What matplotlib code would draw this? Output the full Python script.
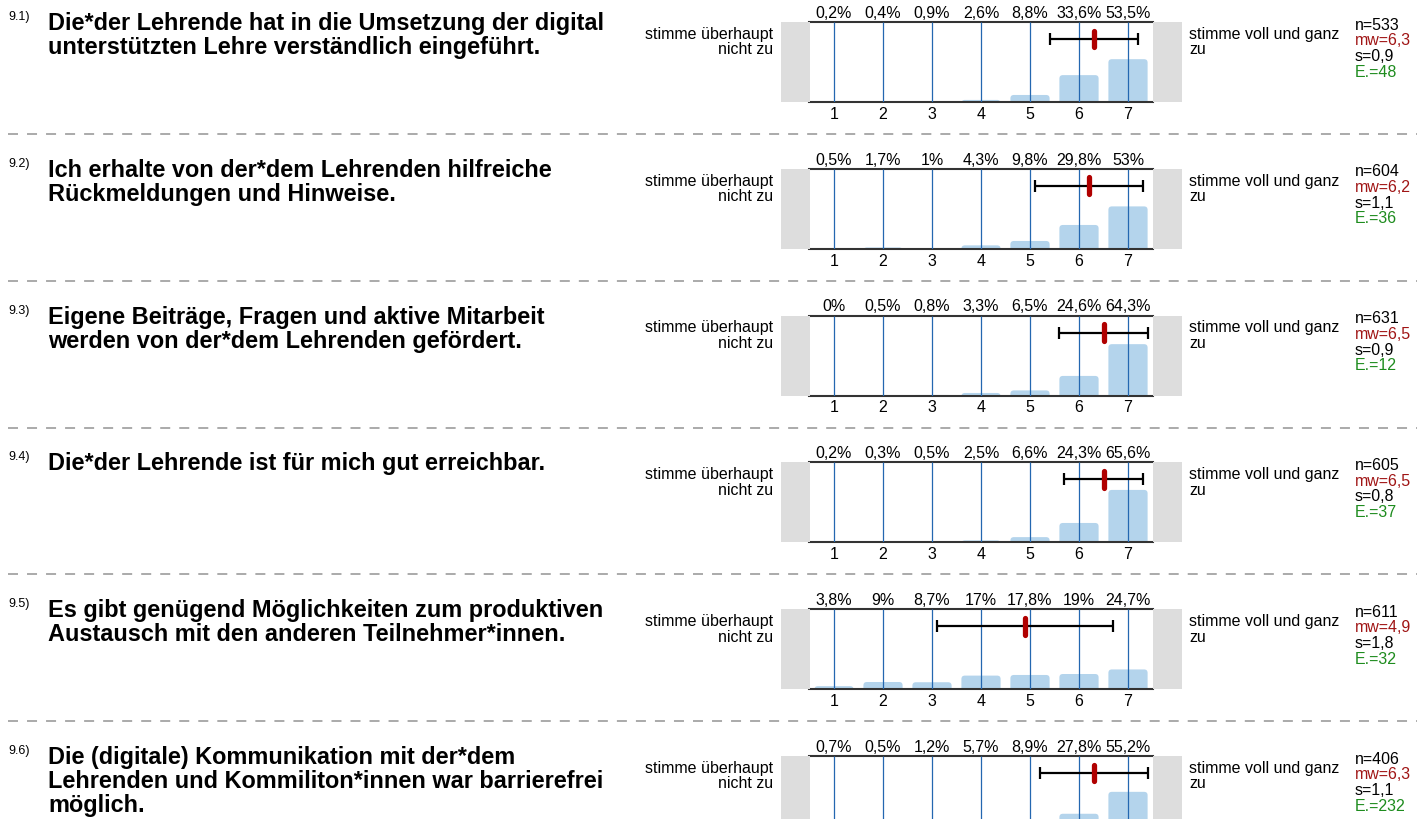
import matplotlib
matplotlib.use("Agg")
import matplotlib.pyplot as plt
from matplotlib.patches import FancyBboxPatch, Rectangle
from matplotlib.lines import Line2D

plt.rcParams['font.family'] = ['Liberation Sans', 'DejaVu Sans']

numbers = ["9.1)", "9.2)", "9.3)", "9.4)", "9.5)", "9.6)"]
questions = [
    ["Die*der Lehrende hat in die Umsetzung der digital",
     "unterstützten Lehre verständlich eingeführt."],
    ["Ich erhalte von der*dem Lehrenden hilfreiche",
     "Rückmeldungen und Hinweise."],
    ["Eigene Beiträge, Fragen und aktive Mitarbeit",
     "werden von der*dem Lehrenden gefördert."],
    ["Die*der Lehrende ist für mich gut erreichbar."],
    ["Es gibt genügend Möglichkeiten zum produktiven",
     "Austausch mit den anderen Teilnehmer*innen."],
    ["Die (digitale) Kommunikation mit der*dem",
     "Lehrenden und Kommiliton*innen war barrierefrei",
     "möglich."],
]
scale = [1, 2, 3, 4, 5, 6, 7]
percents = [
    [0.2, 0.4, 0.9, 2.6, 8.8, 33.6, 53.5],
    [0.5, 1.7, 1.0, 4.3, 9.8, 29.8, 53.0],
    [0.0, 0.5, 0.8, 3.3, 6.5, 24.6, 64.3],
    [0.2, 0.3, 0.5, 2.5, 6.6, 24.3, 65.6],
    [3.8, 9.0, 8.7, 17.0, 17.8, 19.0, 24.7],
    [0.7, 0.5, 1.2, 5.7, 8.9, 27.8, 55.2],
]
n_vals = [533, 604, 631, 605, 611, 406]
means = [6.3, 6.2, 6.5, 6.5, 4.9, 6.3]
sds = [0.9, 1.1, 0.9, 0.8, 1.8, 1.1]
abst = [48, 36, 12, 37, 32, 232]
left_label = "stimme überhaupt\nnicht zu"
right_label = "stimme voll und ganz\nzu"

W, H = 1417, 819
STEP = 146.8
BAR_COLOR = '#b4d4ec'
GRID_COLOR = '#2467b0'
BOX_GRAY = '#dddddd'
MEAN_RED = '#b00000'
MW_COLOR = '#a01515'
E_COLOR = '#1e8c1e'
FS = 11.5


def fx(x):
    return x / W


def fy(y):
    return 1 - y / H


def pct(v):
    s = ('%.1f' % v).rstrip('0').rstrip('.')
    return s.replace('.', ',') + '%'


def num(v):
    return ('%.1f' % v).replace('.', ',')


fig = plt.figure(figsize=(W / 100, H / 100), dpi=100)

for k in range(len(questions)):
    oy = STEP * k

    # question number and text
    fig.text(fx(8), fy(17 + oy), numbers[k], fontsize=9, va='center', ha='left')
    for j, line in enumerate(questions[k]):
        fig.text(fx(48), fy(30 + oy + 24 * j), line, fontsize=16.9, fontweight='bold',
                 va='baseline', ha='left')

    # scale end labels
    fig.text(fx(773), fy(42 + oy), left_label, fontsize=FS, ha='right', va='center',
             multialignment='right', linespacing=1.05)
    fig.text(fx(1189), fy(42 + oy), right_label, fontsize=FS, ha='left', va='center',
             multialignment='left', linespacing=1.05)

    # grey end boxes
    fig.add_artist(Rectangle((fx(781), fy(102 + oy)), fx(28.5), 80 / H,
                             transform=fig.transFigure, color=BOX_GRAY, lw=0))
    fig.add_artist(Rectangle((fx(1152.5), fy(102 + oy)), fx(29.5), 80 / H,
                             transform=fig.transFigure, color=BOX_GRAY, lw=0))

    ax = fig.add_axes([fx(809.5), fy(102 + oy), 343 / W, 80 / H])
    ax.set_xlim(0.5, 7.5)
    ax.set_ylim(0, 100)
    ax.patch.set_alpha(0)

    # bars with rounded tops (bottom corners hidden below zero)
    for x, p in zip(scale, percents[k]):
        ax.add_patch(FancyBboxPatch((x - 0.4, -10), 0.8, p + 10,
                                    boxstyle="round,pad=0,rounding_size=0.07",
                                    mutation_aspect=61.25, fc=BAR_COLOR, ec='none',
                                    zorder=2))
    ax.vlines(scale, 0, 100, color=GRID_COLOR, lw=0.9, zorder=3)

    # standard deviation and mean
    ybar = 78.75
    ax.errorbar(means[k], ybar, xerr=sds[k], fmt='none', ecolor='black',
                elinewidth=1.6, capsize=4, capthick=1.6, zorder=4)
    ax.plot([means[k], means[k]], [ybar - 10.4, ybar + 10.4], color=MEAN_RED, lw=3.8,
            solid_capstyle='round', zorder=5)

    for side in ['left', 'right']:
        ax.spines[side].set_visible(False)
    for side in ['top', 'bottom']:
        ax.spines[side].set_color('#333333')
        ax.spines[side].set_linewidth(1.5)
    ax.set_yticks([])
    # the last block runs past the page bottom, its scale numbers are not shown
    if 102 + oy + 18 < H:
        ax.set_xticks(scale, [str(s) for s in scale])
    else:
        ax.set_xticks(scale, [''] * len(scale))
    ax.tick_params(axis='x', length=0, pad=3.5, labelsize=FS)

    for x, p in zip(scale, percents[k]):
        ax.annotate(pct(p), xy=(x, 1), xycoords=('data', 'axes fraction'),
                    xytext=(0, 0.8), textcoords='offset points',
                    ha='center', va='bottom', fontsize=FS)

    # statistics column
    stats = [("n=%d" % n_vals[k], 'black'), ("mw=" + num(means[k]), MW_COLOR),
             ("s=" + num(sds[k]), 'black'), ("E.=%d" % abst[k], E_COLOR)]
    for j, (t, c) in enumerate(stats):
        fig.text(fx(1355), fy(25 + oy + 15.7 * j), t, fontsize=FS, color=c,
                 ha='left', va='center')

    # dashed separator
    fig.add_artist(Line2D([fx(8), fx(1417)], [fy(134 + oy)] * 2, transform=fig.transFigure,
                          color='#aaaaaa', lw=1.4, linestyle=(0, (7.2 / 1.4, 6.5 / 1.4))))

fig.savefig("out.png", dpi=100)
